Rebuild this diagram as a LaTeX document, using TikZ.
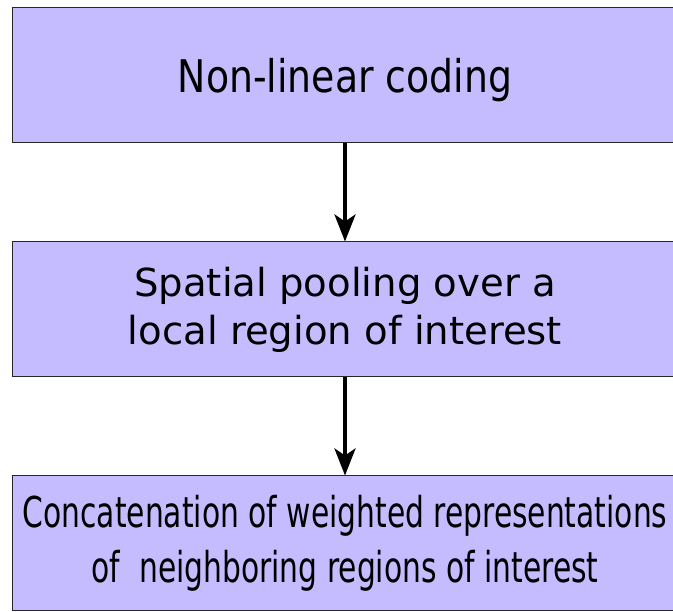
\documentclass[tikz,border=0pt]{standalone}
\usepackage{fontspec}
\setmainfont{DejaVu Sans}
\newfontfamily\codefont[FakeStretch=0.84]{DejaVu Sans}
\newfontfamily\concfont[FakeStretch=0.70]{DejaVu Sans}
\usetikzlibrary{arrows.meta}
\definecolor{boxfill}{RGB}{196,188,255}
\tikzset{
  stage/.style={draw=black!85,line width=1pt,fill=boxfill,minimum width=666pt,
    minimum height=135pt,inner sep=0pt,align=center,text=black},
  flow/.style={line width=4pt,-{Stealth[length=27pt,width=21pt,inset=7pt]}}
}
\begin{document}
\begin{tikzpicture}[x=1pt,y=-1pt]
\useasboundingbox(0,0)rectangle(673,612);
\node[stage,font=\codefont\fontsize{45}{52}\selectfont,text height=34pt,text depth=0pt](coding)at(345,75.5){Non-linear coding};
\node[stage,font=\fontsize{38.6}{48}\selectfont](pooling)at(345,309.5){Spatial pooling over a\\local region of interest};
\node[stage,font=\concfont\fontsize{42.5}{55}\selectfont](concat)at(345,543.5){Concatenation of weighted representations\\of\ \ neighboring regions of interest};
\draw[flow](coding)--(pooling);
\draw[flow](pooling)--(concat);
\end{tikzpicture}
\end{document}
